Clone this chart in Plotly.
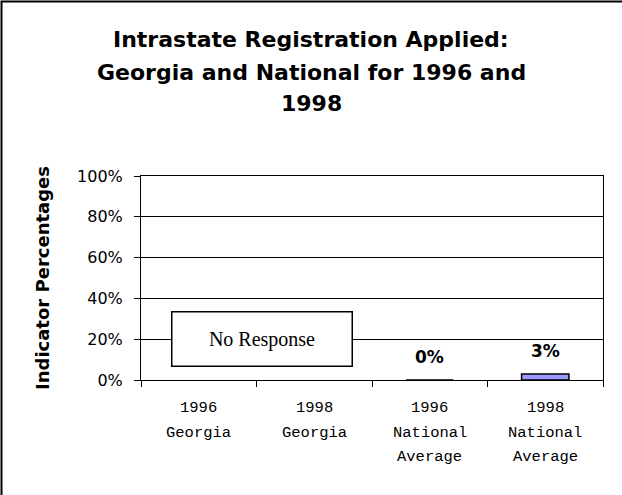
import plotly.graph_objects as go

cat_keys = ["1996 Georgia", "1998 Georgia", "1996 National Average", "1998 National Average"]
cat_lines = [["1996", "Georgia"], ["1998", "Georgia"], ["1996", "National", "Average"], ["1998", "National", "Average"]]
values = [None, None, 0, 3]
y_ticks = [0, 20, 40, 60, 80, 100]
y_ticktext = [f"{v}%" for v in y_ticks]
no_response_label = "No Response"
title_lines = ["Intrastate Registration Applied:", "Georgia and National for 1996 and", "1998"]

W, H = 622, 495
L, R, T, B = 141, 19, 176, 115
pw, ph = W - L - R, H - T - B

def px_x(p):
    return (p - L) / pw

def px_y(p):
    return (H - B - p) / ph

fig = go.Figure()
fig.add_trace(go.Bar(
    x=cat_keys, y=values,
    marker=dict(color="#9999FF", line=dict(color="black", width=1.5)),
    width=0.41,
))

for k, v in zip(cat_keys, values):
    if v is not None:
        fig.add_annotation(x=k, y=v, text=f"<b>{v}%</b>", showarrow=False,
                           yshift=23, font=dict(family="DejaVu Sans", size=17, color="black"))

fig.add_annotation(x=0.548, y=20.3, xref="x", yref="y", text=no_response_label, showarrow=False,
                   font=dict(family="Liberation Serif", size=20, color="black"),
                   bordercolor="black", borderwidth=1.5, bgcolor="white",
                   width=177, height=51)

# category labels (one annotation per line for Excel-like line spacing)
for k, lines in zip(cat_keys, cat_lines):
    for i, line in enumerate(lines):
        fig.add_annotation(x=k, y=px_y(408 + 24.5 * i), xref="x", yref="paper", text=line,
                           showarrow=False, yanchor="middle",
                           font=dict(family="Liberation Mono", size=15.5, color="black"))

# title lines
for i, line in enumerate(title_lines):
    fig.add_annotation(x=px_x(311), y=px_y(40 + 32 * i), xref="paper", yref="paper",
                       text=f"<b>{line}</b>", showarrow=False, yanchor="middle", xanchor="center",
                       font=dict(family="DejaVu Sans", size=22, color="black"))

# outer frame around whole chart
fig.add_shape(type="rect", xref="paper", yref="paper",
              x0=px_x(1.5), x1=px_x(640), y0=px_y(520), y1=px_y(1.5),
              line=dict(color="black", width=2))

fig.update_layout(
    width=W, height=H,
    margin=dict(l=L, r=R, t=T, b=B, autoexpand=False),
    paper_bgcolor="white", plot_bgcolor="white",
    showlegend=False,
)

fig.update_xaxes(
    showticklabels=False,
    showline=True, linecolor="black", linewidth=1, mirror=True,
    ticks="outside", ticklen=6, tickcolor="black", tickson="boundaries",
    showgrid=False,
)
fig.update_yaxes(
    range=[0, 100], tickmode="array", tickvals=y_ticks, ticktext=y_ticktext,
    tickfont=dict(family="DejaVu Sans", size=16, color="black"),
    ticklabelstandoff=8,
    showline=True, linecolor="black", linewidth=1, mirror=True,
    ticks="outside", ticklen=6, tickcolor="black",
    showgrid=True, gridcolor="black", gridwidth=1,
    title=dict(text="<b>Indicator Percentages</b>", standoff=22,
               font=dict(family="DejaVu Sans", size=18, color="black")),
)

fig.write_html("out.html", config={"displayModeBar": False},
               post_script="document.body.style.margin='0px';")
